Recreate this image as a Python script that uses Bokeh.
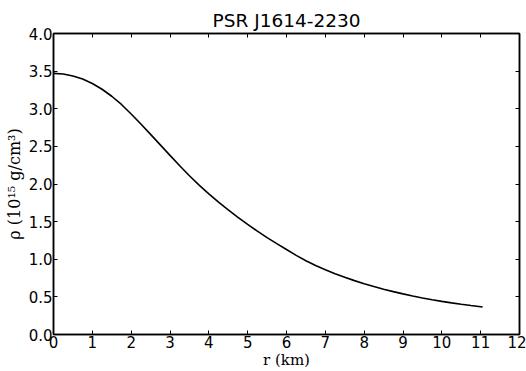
from bokeh.plotting import figure
from bokeh.models import LinearAxis, Range1d, FixedTicker, CustomJSTickFormatter
from bokeh.embed import file_html
from bokeh.resources import INLINE

r_km = [0.0, 0.25, 0.5, 0.75, 1.0, 1.25, 1.5, 1.75, 2.0, 2.25, 2.5, 2.75,
        3.0, 3.25, 3.5, 3.75, 4.0, 4.25, 4.5, 4.75, 5.0, 5.25, 5.5, 5.75,
        6.0, 6.25, 6.5, 6.75, 7.0, 7.25, 7.5, 7.75, 8.0, 8.25, 8.5, 8.75,
        9.0, 9.25, 9.5, 9.75, 10.0, 10.25, 10.5, 10.75, 11.05]
rho = [3.470, 3.462, 3.436, 3.394, 3.335, 3.259, 3.166, 3.057, 2.930, 2.798,
       2.660, 2.520, 2.380, 2.243, 2.110, 1.985, 1.870, 1.760, 1.656, 1.557,
       1.463, 1.373, 1.288, 1.207, 1.129, 1.052, 0.981, 0.917, 0.860, 0.808,
       0.760, 0.716, 0.675, 0.637, 0.602, 0.570, 0.540, 0.512, 0.486, 0.462,
       0.440, 0.420, 0.402, 0.385, 0.366]
x_ticks = list(range(0, 13))
y_ticks = [0.0, 0.5, 1.0, 1.5, 2.0, 2.5, 3.0, 3.5, 4.0]

p = figure(width=526, height=371, output_backend="svg", toolbar_location=None,
           x_range=Range1d(0, 12), y_range=Range1d(0, 4),
           min_border_left=53, min_border_right=7, min_border_bottom=37,
           min_border_top=33)
p.title.text = "PSR J1614-2230"
p.title.align = "center"
p.title.text_font = "DejaVu Sans"
p.title.text_font_size = "18.5px"
p.title.text_font_style = "normal"
p.title.text_color = "black"
p.title.standoff = 5

p.line(r_km, rho, line_color="black", line_width=1.6)

p.xgrid.visible = False
p.ygrid.visible = False
p.outline_line_color = "black"
p.outline_line_width = 1.5


def style(ax, labels=True):
    ax.major_tick_in = 4
    ax.major_tick_out = 0
    ax.minor_tick_line_color = None
    ax.axis_line_color = "black"
    ax.axis_line_width = 1.5
    ax.major_tick_line_width = 1
    ax.major_label_text_font = "DejaVu Sans"
    ax.major_label_text_font_size = "15px"
    ax.major_label_text_color = "black"
    ax.major_label_standoff = 1
    if not labels:
        ax.major_label_text_font_size = "0px"
        ax.major_label_text_color = None
        ax.major_label_standoff = 0


p.xaxis.ticker = FixedTicker(ticks=x_ticks)
p.yaxis.ticker = FixedTicker(ticks=y_ticks)
p.yaxis.formatter = CustomJSTickFormatter(code="return tick.toFixed(1);")
style(p.xaxis[0])
style(p.yaxis[0])
p.xaxis.axis_label = "r (km)"
p.yaxis.axis_label = "ρ (10¹⁵ g/cm³)"
p.xaxis.axis_label_text_font_size = "15px"
p.yaxis.axis_label_text_font_size = "16px"
for ax in (p.xaxis[0], p.yaxis[0]):
    ax.axis_label_text_font = "DejaVu Serif"
    ax.axis_label_text_font_style = "normal"
    ax.axis_label_text_color = "black"
p.xaxis.axis_label_standoff = 0
p.yaxis.axis_label_standoff = 2

top = LinearAxis(ticker=FixedTicker(ticks=x_ticks))
right = LinearAxis(ticker=FixedTicker(ticks=y_ticks))
style(top, False)
style(right, False)
p.add_layout(top, "above")
p.add_layout(right, "right")

open("out.html", "w").write(file_html(p, INLINE))
